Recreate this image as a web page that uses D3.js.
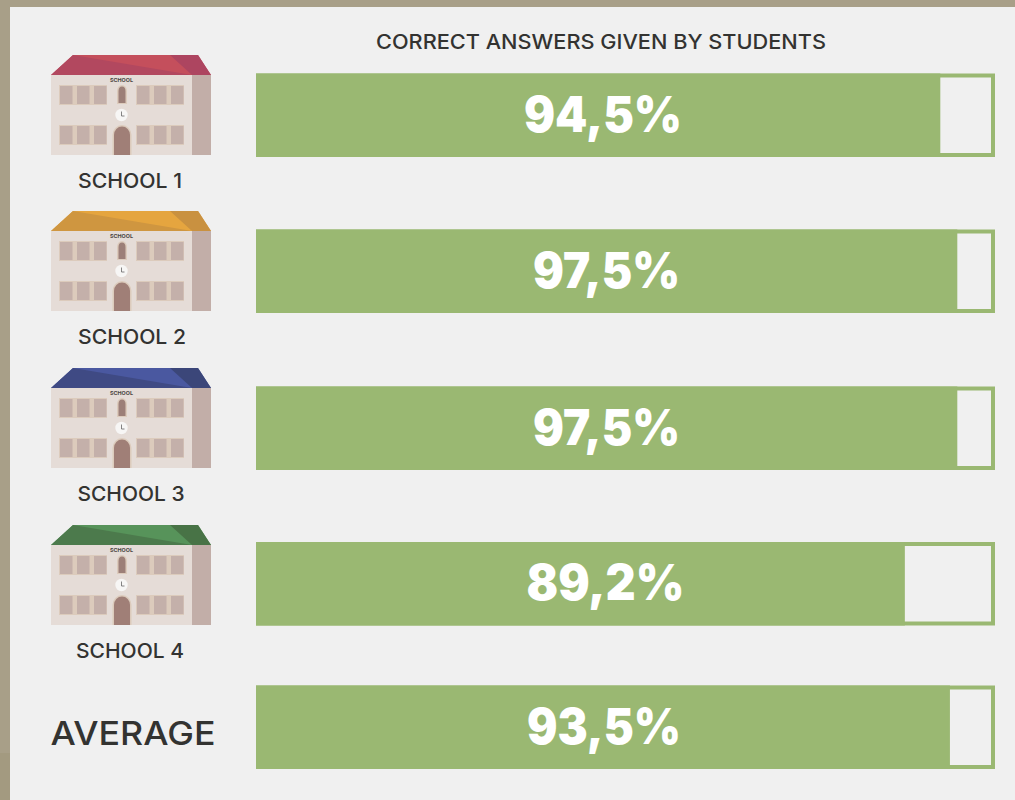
<!DOCTYPE html>
<html>
<head>
<meta charset="utf-8">
<script src="https://cdn.jsdelivr.net/npm/d3@7"></script>
<style>
  html, body { margin: 0; padding: 0; background: #f0f0f0; overflow: hidden; }
  svg { display: block; }
  text { font-family: Inter, "Open Sans", sans-serif; }
</style>
</head>
<body>
<svg></svg>
<script>
var screenWidth = 1015
var screenHeight = 800

// rows, top to bottom
var rowNames = ["SCHOOL 1", "SCHOOL 2", "SCHOOL 3", "SCHOOL 4", "AVERAGE"]
var percentLabels = ["94,5%", "97,5%", "97,5%", "89,2%", "93,5%"]
// how far the green fill reaches inside the frame (it does not follow the labels exactly)
var fillShares = [92.6, 94.9, 94.9, 87.8, 93.9]
var roofLight = ["#c44f5c", "#e5a53f", "#4a58a0", "#57935a"]
var roofDark = ["#b2485f", "#cf9640", "#3f4a84", "#4c7a4c"]
var roofSide = ["#ad4560", "#c99140", "#3b4679", "#487346"]

var green = "#9ab872"
var ink = "#333331"
var frame = "#a89f88"

var svg = d3.select("svg").attr("width", screenWidth).attr("height", screenHeight)

var x = d3.scaleLinear().domain([0, 100]).range([256, 995])
var rowTop = d3.scaleOrdinal().domain(rowNames).range([73.5, 229.5, 386.5, 542, 685.5])
var barHeight = 83.5

// page frame behind the panel
svg.append("rect").attr("width", screenWidth).attr("height", screenHeight).attr("fill", frame)
svg.append("rect").attr("x", 0).attr("y", 753).attr("width", 10).attr("height", 47).attr("fill", "#a39a80")
svg.append("rect").attr("x", 10).attr("y", 7).attr("width", screenWidth - 10).attr("height", screenHeight - 7).attr("fill", "#f0f0f0")

function fitText(sel, width){
  sel.attr("textLength", width).attr("lengthAdjust", "spacingAndGlyphs")
}

svg.append("text")
  .attr("x", 601).attr("y", 48.5)
  .attr("text-anchor", "middle")
  .attr("font-size", 20.5).attr("font-weight", 450)
  .attr("fill", ink)
  .text("CORRECT ANSWERS GIVEN BY STUDENTS")
  .call(fitText, 450)

function drawSchool(i, ox, oy){
  var g = svg.append("g").attr("class", "school").attr("transform", "translate(" + ox + "," + oy + ")")
  // body and side wall
  g.append("rect").attr("x", 0).attr("y", 20).attr("width", 141).attr("height", 80).attr("fill", "#e5dcd7")
  g.append("rect").attr("x", 141).attr("y", 20).attr("width", 19).attr("height", 80).attr("fill", "#c2aea8")
  // roof
  g.append("path").attr("d", "M0,20L22,0H147L160,20Z").attr("fill", roofLight[i])
  g.append("path").attr("d", "M0,20L22,0L141,20Z").attr("fill", roofDark[i])
  g.append("path").attr("d", "M119,0H147L160,20H141Z").attr("fill", roofSide[i])

  g.append("text").attr("x", 70.5).attr("y", 27).attr("text-anchor", "middle")
    .attr("font-size", 5.4).attr("font-weight", 700).attr("fill", "#4a4442").text("SCHOOL")

  // windows
  var groups = [[8, 30], [85, 30], [8, 70], [85, 70]]
  groups.forEach(function(w){
    g.append("rect").attr("x", w[0]).attr("y", w[1]).attr("width", 48).attr("height", 20).attr("fill", "#dccbbc")
    for(var k = 0; k < 3; k++){
      g.append("rect").attr("x", w[0] + 1 + k * 17).attr("y", w[1] + 1)
        .attr("width", 12.5).attr("height", 18).attr("fill", "#c4b0aa")
    }
  })
  // arched window
  g.append("path").attr("d", "M66,49V36a5,6 0 0 1 10,0V49Z").attr("fill", "#dccbbc")
  g.append("path").attr("d", "M67.5,48V36a3.5,4.5 0 0 1 7,0V48Z").attr("fill", "#9c7f78")
  // clock
  g.append("circle").attr("cx", 70.5).attr("cy", 60).attr("r", 6.2).attr("fill", "#f7f6f5")
  g.append("path").attr("d", "M70.5,56.5V61H73.5").attr("fill", "none").attr("stroke", "#666").attr("stroke-width", 0.8)
  // door
  g.append("path").attr("d", "M61.5,100V80a9.5,10 0 0 1 19,0V100Z").attr("fill", "#dccbbc")
  g.append("path").attr("d", "M63,100V80a8,8.5 0 0 1 16,0V100Z").attr("fill", "#a07f77")
}

var schoolTops = [55, 211, 368, 525]
schoolTops.forEach(function(t, i){ drawSchool(i, 51, t) })

// name labels
var nameCenters = [130, 132, 131, 130, 133]
var nameWidths = [104, 108, 107, 108, 165]
var nameBaselines = [188, 344, 501, 658, 745]
svg.selectAll("text.name")
  .data(rowNames)
  .join("text")
  .attr("class", "name")
  .attr("x", function(d, i){ return nameCenters[i] })
  .attr("y", function(d, i){ return nameBaselines[i] })
  .attr("text-anchor", "middle")
  .attr("font-size", function(d, i){ return i == 4 ? 33 : 20 })
  .attr("font-weight", 450)
  .attr("fill", ink)
  .text(function(d){ return d })
  .each(function(d, i){ d3.select(this).call(fitText, nameWidths[i]) })

// frames
svg.selectAll("rect.outline")
  .data(rowNames)
  .join("rect")
  .attr("class", "outline")
  .attr("x", x(0) + 2)
  .attr("y", function(d){ return rowTop(d) + 2 })
  .attr("width", x(100) - x(0) - 4)
  .attr("height", barHeight - 4)
  .attr("fill", "none")
  .attr("stroke", green)
  .attr("stroke-width", 4)

// filled part
svg.selectAll("rect.fill")
  .data(rowNames)
  .join("rect")
  .attr("class", "fill")
  .attr("x", x(0))
  .attr("y", function(d){ return rowTop(d) })
  .attr("width", function(d, i){ return x(fillShares[i]) - x(0) })
  .attr("height", barHeight)
  .attr("fill", green)

var labelCenters = [603, 606.5, 606.5, 605.5, 604]
var labelWidths = [158, 147, 147, 158, 154]
svg.selectAll("text.pct")
  .data(percentLabels)
  .join("text")
  .attr("class", "pct")
  .attr("x", function(d, i){ return labelCenters[i] })
  .attr("y", function(d, i){ return rowTop(rowNames[i]) + 58 })
  .attr("text-anchor", "middle")
  .attr("font-size", 49)
  .attr("font-weight", 900)
  .attr("fill", "#ffffff")
  .text(function(d){ return d })
  .each(function(d, i){ d3.select(this).call(fitText, labelWidths[i]) })
</script>
</body>
</html>
